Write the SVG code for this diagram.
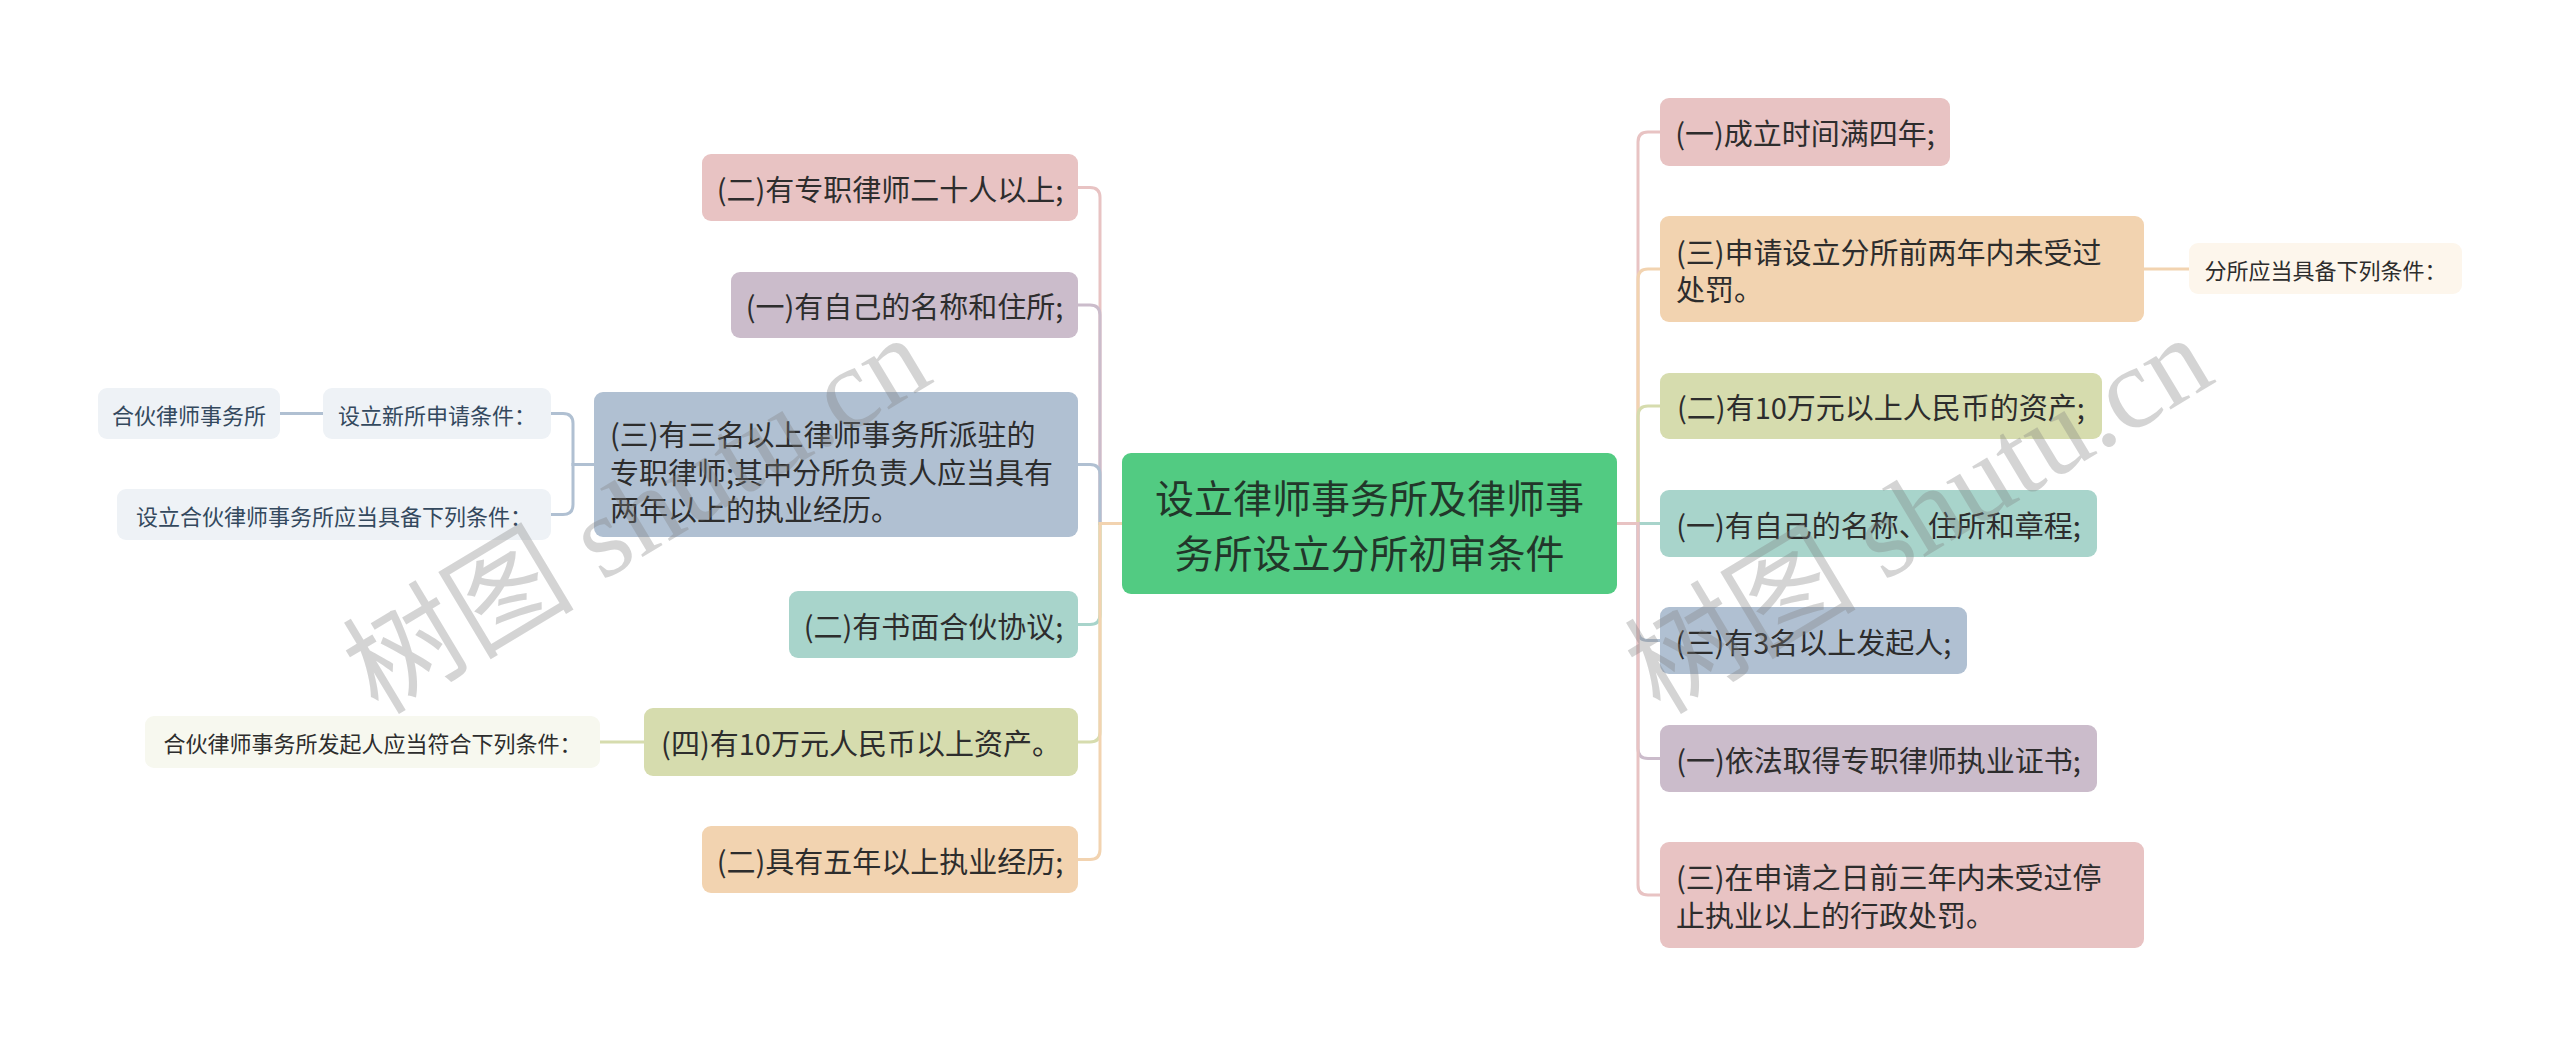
<svg xmlns="http://www.w3.org/2000/svg" width="2560" height="1047" viewBox="0 0 2560 1047">
<style>
  .t { font-family: "Noto Sans CJK SC", "Noto Sans", sans-serif; fill: #2d2d2d; }
  .n { font-size: 29px; }
  .s { font-size: 22px; }
  .c { font-size: 39px; fill: #22362a; }
  .m { text-anchor: middle; dominant-baseline: central; }
  .l { dominant-baseline: central; }
  .ln { fill: none; stroke-width: 3; stroke-linecap: round; }
  .pink { fill: #e8c3c3; } .purp { fill: #cbbccb; } .blue { fill: #b0c0d2; }
  .teal { fill: #a8d4cb; } .oliv { fill: #d6dcae; } .peach { fill: #f2d3b0; }
  .wm { font-family: "Liberation Serif", "Noto Sans CJK SC", serif; font-size: 116px; fill: #808080; opacity: 0.33; }
</style>
<rect width="2560" height="1047" fill="#ffffff"/>
<g id="connectors">
  <path class="ln" stroke="#e8c3c3" d="M1122 523.5 H1100 V197.5 Q1100 187.5 1090 187.5 H1078"/>
  <path class="ln" stroke="#cbbccb" d="M1122 523.5 H1100 V315 Q1100 305 1090 305 H1078"/>
  <path class="ln" stroke="#b0c0d2" d="M1122 523.5 H1100 V474.5 Q1100 464.5 1090 464.5 H1078"/>
  <path class="ln" stroke="#a8d4cb" d="M1122 523.5 H1100 V614.5 Q1100 624.5 1090 624.5 H1078"/>
  <path class="ln" stroke="#d6dcae" d="M1122 523.5 H1100 V732 Q1100 742 1090 742 H1078"/>
  <path class="ln" stroke="#f2d3b0" d="M1122 523.5 H1100 V849.5 Q1100 859.5 1090 859.5 H1078"/>
  <path class="ln" stroke="#e8c3c3" d="M1617 523.5 H1638 V142 Q1638 132 1648 132 H1660"/>
  <path class="ln" stroke="#f2d3b0" d="M1617 523.5 H1638 V279 Q1638 269 1648 269 H1660"/>
  <path class="ln" stroke="#d6dcae" d="M1617 523.5 H1638 V416 Q1638 406 1648 406 H1660"/>
  <path class="ln" stroke="#a8d4cb" d="M1617 523.5 H1660"/>
  <path class="ln" stroke="#b0c0d2" d="M1617 523.5 H1638 V630.5 Q1638 640.5 1648 640.5 H1660"/>
  <path class="ln" stroke="#cbbccb" d="M1617 523.5 H1638 V748.5 Q1638 758.5 1648 758.5 H1660"/>
  <path class="ln" stroke="#e8c3c3" d="M1617 523.5 H1638 V885 Q1638 895 1648 895 H1660"/>
  <path class="ln" stroke="#b0c0d2" d="M594 464.5 H573 V423.5 Q573 413.5 563 413.5 H551"/>
  <path class="ln" stroke="#b0c0d2" d="M594 464.5 H573 V504.5 Q573 514.5 563 514.5 H551"/>
  <path class="ln" stroke="#b0c0d2" d="M323 413.5 H280"/>
  <path class="ln" stroke="#d6dcae" d="M644 742 H600"/>
  <path class="ln" stroke="#f2d3b0" d="M2144 269 H2189"/>
</g>
<g id="center">
  <rect x="1122" y="453" width="495" height="141" rx="9" fill="#52cb82"/>
  <text class="t c m" x="1369.5" y="496">设立律师事务所及律师事</text>
  <text class="t c m" x="1369.5" y="551">务所设立分所初审条件</text>
</g>
<g id="L1">
  <rect class="pink" x="702" y="154" width="376" height="67" rx="9"/>
  <text class="t n m" x="890" y="187.5">(二)有专职律师二十人以上;</text>
</g>
<g id="L2">
  <rect class="purp" x="731" y="272" width="347" height="66" rx="9"/>
  <text class="t n m" x="904.5" y="305">(一)有自己的名称和住所;</text>
</g>
<g id="L3">
  <rect class="blue" x="594" y="392" width="484" height="145" rx="9"/>
  <text class="t n l" x="610" y="433">(三)有三名以上律师事务所派驻的</text>
  <text class="t n l" x="610" y="470.5">专职律师;其中分所负责人应当具有</text>
  <text class="t n l" x="610" y="508">两年以上的执业经历。</text>
</g>
<g id="L4">
  <rect class="teal" x="789" y="591" width="289" height="67" rx="9"/>
  <text class="t n m" x="933.5" y="624.5">(二)有书面合伙协议;</text>
</g>
<g id="L5">
  <rect class="oliv" x="644" y="708" width="434" height="68" rx="9"/>
  <text class="t n m" x="861" y="742">(四)有10万元人民币以上资产。</text>
</g>
<g id="L6">
  <rect class="peach" x="702" y="826" width="376" height="67" rx="9"/>
  <text class="t n m" x="890" y="859.5">(二)具有五年以上执业经历;</text>
</g>
<g id="S1">
  <rect x="98" y="388" width="182" height="51" rx="9" fill="#eef2f6"/>
  <text class="t s m" x="189" y="413.5" style="fill:#34495e">合伙律师事务所</text>
</g>
<g id="S2">
  <rect x="323" y="388" width="228" height="51" rx="9" fill="#eef2f6"/>
  <text class="t s m" x="437" y="413.5" style="fill:#34495e">设立新所申请条件：</text>
</g>
<g id="S3">
  <rect x="117" y="489" width="434" height="51" rx="9" fill="#eef2f6"/>
  <text class="t s m" x="334" y="514.5" style="fill:#34495e">设立合伙律师事务所应当具备下列条件：</text>
</g>
<g id="S4">
  <rect x="145" y="716" width="455" height="52" rx="9" fill="#f7f8ef"/>
  <text class="t s m" x="372.5" y="742">合伙律师事务所发起人应当符合下列条件：</text>
</g>
<g id="R1">
  <rect class="pink" x="1660" y="98" width="290" height="68" rx="9"/>
  <text class="t n m" x="1805" y="132">(一)成立时间满四年;</text>
</g>
<g id="R2">
  <rect class="peach" x="1660" y="216" width="484" height="106" rx="9"/>
  <text class="t n l" x="1676" y="250.5">(三)申请设立分所前两年内未受过</text>
  <text class="t n l" x="1676" y="288">处罚。</text>
</g>
<g id="S5">
  <rect x="2189" y="243" width="273" height="51" rx="9" fill="#fdf6ec"/>
  <text class="t s m" x="2325.5" y="268.5">分所应当具备下列条件：</text>
</g>
<g id="R3">
  <rect class="oliv" x="1660" y="373" width="442" height="66" rx="9"/>
  <text class="t n m" x="1881" y="406">(二)有10万元以上人民币的资产;</text>
</g>
<g id="R4">
  <rect class="teal" x="1660" y="490" width="437" height="67" rx="9"/>
  <text class="t n m" x="1878.5" y="523.5">(一)有自己的名称、住所和章程;</text>
</g>
<g id="R5">
  <rect class="blue" x="1660" y="607" width="307" height="67" rx="9"/>
  <text class="t n m" x="1813.5" y="640.5">(三)有3名以上发起人;</text>
</g>
<g id="R6">
  <rect class="purp" x="1660" y="725" width="437" height="67" rx="9"/>
  <text class="t n m" x="1878.5" y="758.5">(一)依法取得专职律师执业证书;</text>
</g>
<g id="R7">
  <rect class="pink" x="1660" y="842" width="484" height="106" rx="9"/>
  <text class="t n l" x="1676" y="876">(三)在申请之日前三年内未受过停</text>
  <text class="t n l" x="1676" y="914">止执业以上的行政处罚。</text>
</g>
<g id="watermark">
  <text class="wm" transform="translate(378,716) rotate(-31)">树图 shutu.cn</text>
  <text class="wm" transform="translate(1660,716) rotate(-31)">树图 shutu.cn</text>
</g>
</svg>
